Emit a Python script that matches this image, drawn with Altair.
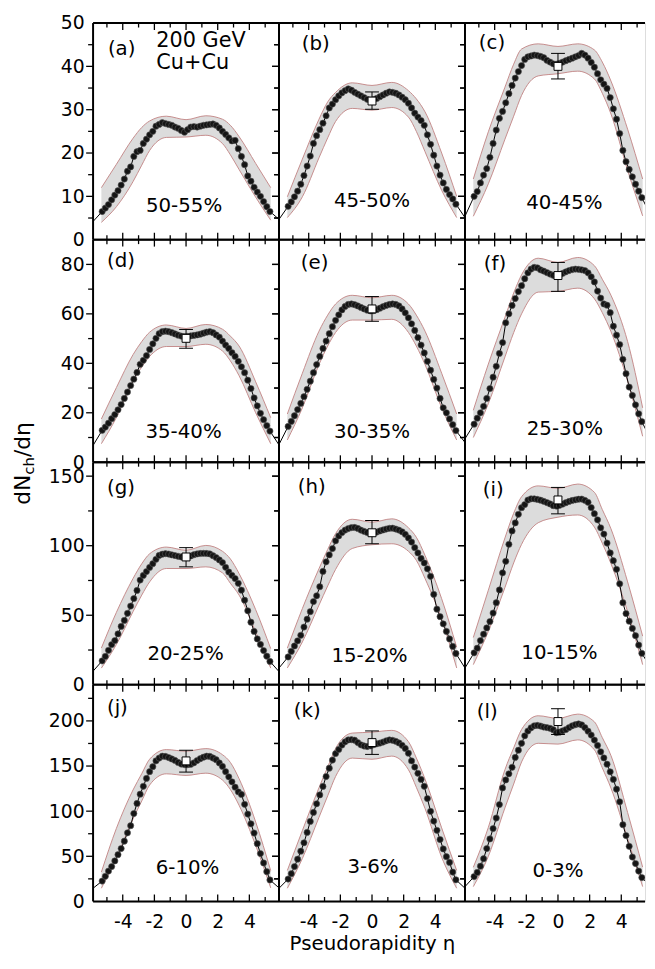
import altair as alt
import pandas as pd

FONT = "DejaVu Sans"

# ---------------- data ----------------
ETA = [-5.3, -5.1, -4.9, -4.7, -4.5, -4.3, -4.1, -3.9, -3.7,
       -3.5, -3.3, -3.1, -2.9, -2.7, -2.5, -2.3, -2.1, -1.9,
       -1.7, -1.5, -1.3, -1.1, -0.9, -0.7, -0.5, -0.3, -0.1,
       0.1, 0.3, 0.5, 0.7, 0.9, 1.1, 1.3, 1.5, 1.7,
       1.9, 2.1, 2.3, 2.5, 2.7, 2.9, 3.1, 3.3, 3.5,
       3.7, 3.9, 4.1, 4.3, 4.5, 4.7, 4.9, 5.1, 5.3]
EDGE_ETA = [-5.875, 5.875]
BAND_ETA = [-5.35, -4.4, -3.35, -2.8, -2.3, -1.25, 0.0, 1.25, 2.3, 2.8, 3.35, 4.4, 5.35]

PTS_A = [6.5, 7.3, 8.1, 9.2, 10.3, 11.3, 12.6, 14.0, 15.8,
         16.8, 19.2, 20.3, 20.6, 22.2, 23.2, 24.2, 25.0, 26.2,
         26.6, 27.0, 26.8, 26.6, 26.4, 26.0, 25.7, 25.2, 24.8,
         25.4, 26.0, 26.1, 26.0, 26.2, 26.4, 26.5, 26.6, 26.7,
         26.4, 25.8, 25.0, 24.3, 23.5, 22.8, 22.9, 21.0, 19.2,
         17.3, 14.7, 13.5, 12.1, 11.0, 10.0, 8.8, 7.6, 6.5]
PTS_B = [7.7, 8.7, 9.9, 11.2, 12.8, 14.8, 17.0, 19.3, 22.2,
         24.0, 25.4, 26.9, 28.6, 30.4, 31.3, 32.3, 33.2, 33.9,
         34.4, 34.8, 34.5, 34.0, 33.6, 33.2, 32.8, 32.4, 32.2,
         32.3, 32.6, 33.0, 33.4, 33.8, 34.1, 34.0, 33.8, 33.4,
         32.9, 32.3, 31.5, 30.4, 29.2, 28.3, 27.5, 26.4, 24.2,
         22.0, 19.5, 17.0, 14.9, 13.1, 11.6, 10.4, 9.4, 8.2]
PTS_C = [10.0, 11.1, 13.1, 14.9, 16.4, 19.0, 22.2, 25.3, 28.0,
         29.6, 31.6, 33.7, 35.6, 37.3, 38.8, 40.2, 41.6, 42.2,
         42.4, 42.6, 42.5, 42.3, 42.0, 41.4, 41.0, 40.6, 40.5,
         40.7, 41.0, 41.3, 41.6, 41.9, 42.2, 42.5, 43.0, 42.6,
         41.9, 40.9, 39.8, 38.3, 36.9, 35.9, 34.9, 32.8, 30.2,
         27.8, 24.5, 20.6, 18.0, 16.2, 14.5, 12.8, 11.2, 9.7]
PTS_D = [12.9, 14.2, 15.8, 17.6, 19.3, 21.2, 23.3, 25.8, 28.4,
         31.0, 33.6, 36.3, 39.6, 41.2, 43.1, 45.6, 47.9, 50.1,
         52.0, 52.8, 53.0, 52.8, 52.4, 51.9, 51.4, 51.0, 50.8,
         50.9, 51.1, 51.3, 51.5, 51.8, 52.2, 52.6, 52.8, 52.4,
         51.5, 50.6, 49.0, 47.4, 46.0, 44.3, 42.8, 40.8, 38.6,
         36.2, 33.2, 29.8, 26.0, 22.8, 19.8, 17.2, 14.8, 12.6]
PTS_E = [14.5, 16.5, 18.8, 21.3, 23.8, 26.5, 29.5, 32.8, 36.2,
         39.5, 42.8, 46.0, 49.0, 52.0, 54.8, 57.4, 59.6, 61.6,
         63.0, 63.8, 64.0, 63.7, 63.2, 62.6, 62.0, 61.5, 61.2,
         61.3, 61.7, 62.3, 62.9, 63.4, 63.8, 64.0, 63.8, 63.2,
         62.0, 60.4, 58.4, 56.0, 53.3, 50.4, 47.4, 44.2, 40.8,
         37.2, 33.5, 30.0, 25.8, 22.0, 20.0, 17.5, 15.2, 12.8]
PTS_F = [15.4, 17.8, 20.0, 22.6, 25.8, 29.8, 34.4, 38.8, 44.0,
         48.4, 56.4, 60.0, 63.4, 66.2, 69.0, 71.4, 74.2, 76.6,
         78.1, 78.8, 78.6, 77.8, 77.3, 76.7, 76.1, 75.6, 75.2,
         75.6, 76.4, 77.0, 77.5, 77.9, 78.1, 78.0, 77.8, 77.5,
         76.6, 75.0, 72.9, 69.2, 66.4, 64.0, 63.5, 60.5, 55.0,
         51.4, 47.6, 41.6, 35.8, 30.4, 27.0, 23.2, 19.6, 16.4]
PTS_G = [17.2, 20.4, 24.8, 28.9, 31.8, 36.6, 42.0, 46.3, 51.4,
         56.6, 62.0, 67.8, 75.3, 78.6, 81.4, 84.4, 87.1, 90.2,
         93.0, 93.9, 94.3, 94.0, 93.4, 92.9, 92.4, 91.9, 91.5,
         91.8, 92.6, 93.5, 94.1, 94.4, 94.5, 94.4, 94.1, 92.8,
         91.5, 89.8, 87.9, 84.5, 81.1, 78.7, 76.4, 73.0, 68.0,
         60.8, 53.2, 45.0, 38.4, 33.0, 29.0, 24.6, 20.6, 16.8]
PTS_H = [20.0, 24.0, 27.9, 31.6, 35.6, 41.5, 47.2, 52.6, 59.8,
         64.0, 70.5, 81.5, 88.4, 93.4, 97.9, 103.5, 107.0, 109.4,
         111.2, 112.3, 113.0, 113.1, 112.4, 111.2, 110.3, 109.5, 109.0,
         109.1, 109.8, 110.6, 111.3, 112.0, 112.5, 112.6, 112.0, 111.2,
         110.0, 108.2, 105.6, 102.6, 98.6, 94.8, 90.8, 87.6, 83.4,
         78.0, 65.0, 54.4, 49.0, 43.8, 38.4, 33.0, 27.6, 22.5]
PTS_I = [23.0, 26.3, 31.8, 36.4, 40.9, 45.5, 51.6, 59.0, 68.2,
         80.5, 88.8, 101.0, 110.6, 116.4, 122.6, 127.3, 129.6, 132.8,
         133.7, 133.7, 133.3, 132.7, 131.9, 131.0, 130.0, 128.8, 128.5,
         129.0, 129.9, 130.9, 131.8, 132.5, 133.0, 133.4, 133.5, 132.6,
         131.2, 127.4, 123.0, 118.6, 112.9, 108.4, 101.9, 94.8, 89.2,
         83.0, 72.6, 59.0, 51.2, 45.7, 40.5, 35.3, 28.6, 22.6]
PTS_J = [22.6, 27.8, 33.6, 38.6, 44.9, 51.8, 58.6, 66.8, 76.0,
         83.9, 97.4, 108.5, 118.8, 127.6, 136.3, 143.8, 149.3, 155.7,
         158.8, 160.9, 160.6, 159.4, 157.8, 156.2, 154.0, 152.2, 151.6,
         151.5, 151.9, 153.6, 156.1, 158.2, 159.8, 160.9, 160.7, 158.9,
         157.0, 153.5, 149.6, 143.8, 138.0, 132.5, 126.6, 121.4, 118.5,
         107.6, 96.8, 86.0, 75.8, 64.0, 53.0, 42.6, 33.0, 23.8]
PTS_K = [24.8, 30.7, 38.6, 46.8, 55.6, 65.0, 76.5, 88.6, 98.6,
         108.2, 118.0, 127.4, 138.4, 147.6, 156.6, 163.8, 168.4, 173.2,
         176.8, 178.9, 179.2, 178.6, 176.0, 173.5, 172.2, 171.6, 172.4,
         173.6, 174.6, 175.4, 176.6, 178.0, 178.9, 178.5, 177.4, 175.6,
         173.0, 169.5, 164.2, 155.7, 148.8, 142.0, 135.2, 127.6, 114.0,
         99.8, 89.0, 78.8, 68.6, 58.2, 49.6, 43.2, 32.5, 24.0]
PTS_L = [27.5, 32.1, 39.0, 47.3, 58.6, 69.2, 80.7, 92.4, 107.3,
         125.8, 134.6, 141.4, 148.6, 159.5, 167.5, 175.2, 183.5, 188.8,
         192.4, 194.6, 195.0, 194.3, 193.2, 192.6, 191.8, 190.2, 187.0,
         187.5, 189.0, 190.4, 192.6, 194.6, 195.8, 196.6, 195.6, 192.6,
         188.6, 184.3, 178.8, 172.8, 165.8, 159.0, 152.0, 143.6, 135.2,
         124.4, 110.4, 85.0, 73.0, 61.1, 49.2, 42.0, 33.6, 26.4]

EDGE_A = [4.2, 4.7]
EDGE_B = [4.7, 5.1]
EDGE_C = [5.4, 5.5]
EDGE_D = [6.8, 7.0]
EDGE_E = [7.2, 8.0]
EDGE_F = [9.5, 9.0]
EDGE_G = [9.8, 9.5]
EDGE_H = [12.1, 12.1]
EDGE_I = [12.1, 12.0]
EDGE_J = [14.6, 15.0]
EDGE_K = [14.6, 14.6]
EDGE_L = [16.4, 16.0]

BAND_UP_A = [12.0, 17.4, 23.4, 25.9, 27.4, 28.5, 27.7, 28.6, 27.8, 26.4, 23.8, 17.6, 12.0]
BAND_LO_A = [4.0, 7.6, 13.4, 17.2, 20.6, 23.6, 23.7, 24.1, 22.2, 19.6, 16.2, 9.8, 4.5]
BAND_UP_B = [9.9, 18.6, 27.8, 31.8, 34.0, 36.2, 35.6, 36.3, 34.4, 32.5, 29.5, 20.0, 10.0]
BAND_LO_B = [5.1, 9.9, 18.9, 23.5, 27.3, 30.3, 29.9, 30.5, 28.3, 25.0, 20.3, 11.4, 5.1]
BAND_UP_C = [14.0, 24.9, 35.2, 40.5, 44.0, 45.2, 44.6, 45.2, 43.8, 41.0, 36.6, 25.5, 14.0]
BAND_LO_C = [5.4, 12.9, 23.2, 28.5, 33.3, 37.8, 38.3, 38.9, 37.1, 33.8, 29.0, 16.0, 5.5]
BAND_UP_D = [17.5, 30.2, 43.5, 48.8, 52.6, 55.5, 54.1, 55.7, 53.8, 51.0, 47.0, 32.5, 18.0]
BAND_LO_D = [7.5, 18.1, 32.8, 38.5, 42.8, 46.8, 46.8, 47.7, 45.0, 41.0, 35.0, 20.0, 7.5]
BAND_UP_E = [19.5, 36.0, 53.0, 59.5, 64.0, 67.5, 66.5, 67.5, 64.0, 59.5, 53.0, 36.0, 19.5]
BAND_LO_E = [9.0, 22.0, 39.5, 47.0, 52.5, 57.5, 57.5, 57.8, 52.5, 47.0, 39.5, 22.0, 9.0]
BAND_UP_F = [21.0, 39.7, 58.6, 68.4, 75.8, 82.5, 80.8, 82.8, 79.5, 74.0, 67.5, 48.8, 22.0]
BAND_LO_F = [10.0, 23.7, 42.6, 52.4, 60.0, 68.8, 69.1, 70.4, 66.1, 60.5, 52.8, 32.8, 10.5]
BAND_UP_G = [26.4, 52.1, 76.4, 87.0, 94.2, 99.0, 96.7, 100.2, 96.0, 90.5, 80.0, 54.0, 26.0]
BAND_LO_G = [12.0, 29.0, 52.6, 64.5, 74.0, 83.6, 83.6, 84.8, 80.5, 73.0, 64.5, 38.0, 12.0]
BAND_UP_H = [26.4, 54.8, 83.5, 97.3, 108.7, 119.0, 116.9, 119.3, 112.9, 106.1, 93.0, 61.9, 27.0]
BAND_LO_H = [12.1, 30.8, 57.3, 71.1, 83.0, 98.0, 100.7, 101.4, 96.0, 89.5, 76.4, 47.0, 12.1]
BAND_UP_I = [34.0, 68.0, 105.6, 123.3, 135.2, 143.0, 141.2, 144.3, 138.4, 126.0, 112.1, 74.0, 35.0]
BAND_LO_I = [14.5, 38.4, 70.0, 87.6, 101.0, 116.5, 120.5, 122.1, 113.4, 101.8, 87.1, 52.6, 14.5]
BAND_UP_J = [32.5, 81.0, 123.5, 141.5, 157.6, 168.2, 166.4, 169.3, 162.6, 154.0, 136.0, 88.0, 34.0]
BAND_LO_J = [14.6, 48.6, 91.4, 111.3, 129.0, 141.4, 139.6, 142.1, 134.5, 124.0, 106.5, 62.0, 15.0]
BAND_UP_K = [34.3, 78.5, 126.0, 149.0, 169.5, 186.5, 187.5, 189.5, 177.0, 159.0, 135.5, 81.5, 34.3]
BAND_LO_K = [14.6, 47.6, 93.2, 117.0, 138.5, 158.8, 157.5, 161.0, 146.0, 126.5, 103.0, 49.0, 14.6]
BAND_UP_L = [37.8, 82.0, 146.0, 170.0, 190.5, 205.7, 202.8, 207.5, 199.0, 181.5, 161.5, 98.5, 38.0]
BAND_LO_L = [16.4, 50.0, 103.7, 130.0, 154.5, 175.2, 174.3, 179.0, 168.0, 148.0, 125.5, 69.5, 16.4]

# open square at eta = 0 with its error bar (panel a has none)
SQ_VAL = [None, 32.0, 40.0, 50.1, 62.0, 75.5, 91.9, 109.3, 132.9, 155.7, 176.0, 199.3]
SQ_LO = [None, 30.1, 37.1, 46.1, 57.0, 69.1, 84.8, 101.4, 122.9, 143.3, 162.9, 185.0]
SQ_HI = [None, 34.1, 43.0, 53.7, 67.0, 80.8, 98.6, 118.1, 141.9, 167.5, 188.9, 213.5]

LETTERS = ["(a)", "(b)", "(c)", "(d)", "(e)", "(f)", "(g)", "(h)", "(i)", "(j)", "(k)", "(l)"]
CENTRALITY = ["50-55%", "45-50%", "40-45%", "35-40%", "30-35%", "25-30%",
              "20-25%", "15-20%", "10-15%", "6-10%", "3-6%", "0-3%"]

Y_MAX = [50, 90, 160, 240]
Y_LABELS = [[0, 10, 20, 30, 40, 50], [0, 20, 40, 60, 80], [0, 50, 100, 150], [0, 50, 100, 150, 200]]
Y_MAJOR = [[10, 20, 30, 40], [20, 40, 60, 80], [50, 100, 150], [50, 100, 150, 200]]
Y_MINOR = [[5, 15, 25, 35, 45], [10, 30, 50, 70], [25, 75, 125], [25, 75, 125, 175, 225]]
X_LABELS = [-4, -2, 0, 2, 4]
X_MAJOR = [-4, -2, 0, 2, 4]
X_MINOR = [-5, -3, -1, 1, 3, 5]
X_MIN = -5.875

# ---------------- layout / style ----------------
ROW_H = [219, 225, 225, 219]
COL_W = [188, 188, 182]
PX_PER_ETA = 16.0
LETTER_POS = [(15, 26), (23, 21), (14, 20), (14, 22), (22, 24), (19, 25),
              (14, 26), (19, 25), (18, 28), (14, 24), (15, 27), (12, 28)]
CENT_POS = [(-2, 34), (0, 39), (6.5, 37.5), (-2.5, 30.5), (0, 31), (7, 33.5),
            (-0.5, 31.5), (-2.5, 29), (1.5, 32), (1.5, 33.5), (1, 34.5), (0, 30.5)]

BAND_FILL = "#dcdcdc"
BAND_EDGE = "#c58d8d"

PTS = [PTS_A, PTS_B, PTS_C, PTS_D, PTS_E, PTS_F, PTS_G, PTS_H, PTS_I, PTS_J, PTS_K, PTS_L]
EDGES = [EDGE_A, EDGE_B, EDGE_C, EDGE_D, EDGE_E, EDGE_F, EDGE_G, EDGE_H, EDGE_I, EDGE_J, EDGE_K, EDGE_L]
BUP = [BAND_UP_A, BAND_UP_B, BAND_UP_C, BAND_UP_D, BAND_UP_E, BAND_UP_F,
       BAND_UP_G, BAND_UP_H, BAND_UP_I, BAND_UP_J, BAND_UP_K, BAND_UP_L]
BLO = [BAND_LO_A, BAND_LO_B, BAND_LO_C, BAND_LO_D, BAND_LO_E, BAND_LO_F,
       BAND_LO_G, BAND_LO_H, BAND_LO_I, BAND_LO_J, BAND_LO_K, BAND_LO_L]

ONE = pd.DataFrame({"k": [0]})


def txt(x, y, s, size, align="left", baseline="middle", angle=0):
    kw = dict(text=s, font=FONT, fontSize=size, align=align, baseline=baseline, color="black")
    if angle:
        kw["angle"] = angle
    return alt.Chart(ONE).mark_text(**kw).encode(x=alt.value(x), y=alt.value(y))


def panel(i):
    r, c = divmod(i, 3)
    H, W = ROW_H[r], COL_W[c]
    xs = alt.Scale(domain=[X_MIN, X_MIN + W / PX_PER_ETA], nice=False, zero=False)
    ys = alt.Scale(domain=[0, Y_MAX[r]], nice=False, zero=False)

    if r == 3:
        xkw = dict(values=X_LABELS, grid=False, domain=False, ticks=False, tickSize=0,
                   labelExpr="datum.value < 0 ? '-' + abs(datum.value) : '' + datum.value",
                   labelFont=FONT, labelFontSize=19, labelColor="black", labelPadding=11,
                   labelFlush=False, labelOverlap=False)
        if c == 1:
            xkw.update(title="Pseudorapidity η", titleFont=FONT, titleFontSize=20,
                       titleFontWeight="normal", titleColor="black", titlePadding=3)
        else:
            xkw.update(title="")
        xax = alt.Axis(**xkw)
    else:
        xax = None
    if c == 0:
        yax = alt.Axis(values=Y_LABELS[r], grid=False, domain=False, ticks=False, tickSize=0,
                       labelFont=FONT, labelFontSize=19, labelColor="black", labelPadding=9,
                       labelOverlap=False, labelFlush=False, title="")
    else:
        yax = None

    band = pd.DataFrame({"eta": BAND_ETA, "up": BUP[i], "lo": BLO[i]})
    pts = pd.DataFrame({"eta": ETA, "v": PTS[i]})
    curve = pd.DataFrame({"eta": [EDGE_ETA[0]] + ETA + [EDGE_ETA[1]],
                          "v": [EDGES[i][0]] + PTS[i] + [EDGES[i][1]]})

    # the same axis definition is given to every layer so that they merge cleanly
    def X(f):
        return alt.X(f, scale=xs, axis=xax)

    def Y(f):
        return alt.Y(f, scale=ys, axis=yax)

    layers = [
        alt.Chart(band).mark_area(color=BAND_FILL, opacity=1, interpolate="monotone", clip=True)
        .encode(x=X("eta:Q"), y=Y("up:Q"), y2="lo:Q"),
        alt.Chart(band).mark_line(color=BAND_EDGE, strokeWidth=1, interpolate="monotone", clip=True)
        .encode(x=X("eta:Q"), y=Y("up:Q")),
        alt.Chart(band).mark_line(color=BAND_EDGE, strokeWidth=1, interpolate="monotone", clip=True)
        .encode(x=X("eta:Q"), y=Y("lo:Q")),
        alt.Chart(curve).mark_line(color="black", strokeWidth=1, clip=True)
        .encode(x=X("eta:Q"), y=Y("v:Q")),
        alt.Chart(pts).mark_circle(size=40, color="#151515", opacity=1, stroke="#5a5a5a",
                                   strokeWidth=0.6, clip=True)
        .encode(x=X("eta:Q"), y=Y("v:Q")),
    ]
    if SQ_VAL[i] is not None:
        sq = pd.DataFrame({"eta": [0.0], "v": [SQ_VAL[i]], "lo": [SQ_LO[i]], "hi": [SQ_HI[i]]})
        layers += [
            alt.Chart(sq).mark_rule(color="black", strokeWidth=1)
            .encode(x=X("eta:Q"), y=Y("lo:Q"), y2="hi:Q"),
            alt.Chart(sq).mark_tick(orient="horizontal", size=14, thickness=1, color="black", opacity=1)
            .encode(x=X("eta:Q"), y=Y("lo:Q")),
            alt.Chart(sq).mark_tick(orient="horizontal", size=14, thickness=1, color="black", opacity=1)
            .encode(x=X("eta:Q"), y=Y("hi:Q")),
            alt.Chart(sq).mark_square(size=64, fill="white", stroke="black", strokeWidth=1,
                                      opacity=1, filled=True)
            .encode(x=X("eta:Q"), y=Y("v:Q")),
        ]

    # inward x ticks on top and bottom edges
    for vals, L in ((X_MAJOR, 7), (X_MINOR, 4.5)):
        tdf = pd.DataFrame({"t": vals})
        layers += [
            alt.Chart(tdf).mark_rule(color="black", strokeWidth=1.3)
            .encode(x=X("t:Q"), y=alt.value(H), y2=alt.value(H - L)),
            alt.Chart(tdf).mark_rule(color="black", strokeWidth=1.3)
            .encode(x=X("t:Q"), y=alt.value(0), y2=alt.value(L)),
        ]
    # y ticks: outward on the left edge, inward on the right edge
    for vals, L in ((Y_MAJOR[r], 7), (Y_MINOR[r], 5)):
        tdf = pd.DataFrame({"t": vals})
        layers.append(alt.Chart(tdf).mark_rule(color="black", strokeWidth=1.3)
                      .encode(y=Y("t:Q"), x=alt.value(-L), x2=alt.value(0)))
        if c < 2:
            layers.append(alt.Chart(tdf).mark_rule(color="black", strokeWidth=1.3)
                          .encode(y=Y("t:Q"), x=alt.value(W - L), x2=alt.value(W)))

    # frame
    frame = alt.Chart(ONE).mark_rule(color="black", strokeWidth=2)
    layers += [
        frame.encode(x=alt.value(0), y=alt.value(0), y2=alt.value(H)),
        frame.encode(x=alt.value(0), x2=alt.value(W), y=alt.value(0)),
        frame.encode(x=alt.value(0), x2=alt.value(W), y=alt.value(H)),
    ]
    if c < 2:
        layers.append(frame.encode(x=alt.value(W), y=alt.value(0), y2=alt.value(H)))

    # texts
    lx, ly = LETTER_POS[i]
    layers.append(txt(lx, ly, LETTERS[i], 20))
    cx, cy = CENT_POS[i]
    layers.append(txt(94 + cx, H - cy, CENTRALITY[i], 20, align="center"))
    if i == 0:
        layers.append(txt(64, 18, "200 GeV", 21))
        layers.append(txt(64, 40, "Cu+Cu", 21))
    if i == 6:
        # y title dN_ch/deta, built from three rotated pieces
        layers.append(txt(-64, 43, "dN", 22, baseline="alphabetic", angle=270))
        layers.append(txt(-60, 12.6, "ch", 15, baseline="alphabetic", angle=270))
        layers.append(txt(-64, -5.2, "/dη", 22, baseline="alphabetic", angle=270))

    return alt.layer(*layers).properties(width=W, height=H)


chart = (
    alt.concat(*[panel(i) for i in range(12)], columns=3, spacing=0)
    .properties(bounds="flush", padding={"left": 3, "top": 0, "right": 0, "bottom": 0})
    .configure_view(stroke=None)
    .configure(font=FONT)
)

chart.save("out.html", embed_options={"renderer": "svg", "actions": False})
